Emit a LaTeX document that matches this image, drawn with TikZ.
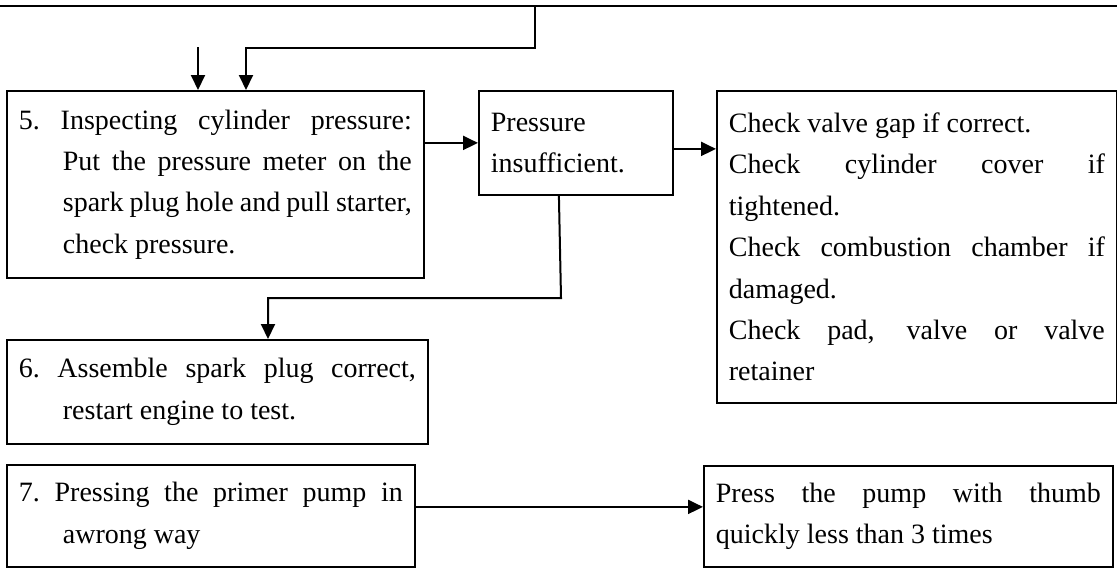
\documentclass[tikz,border=0pt]{standalone}
\usepackage{fontspec}
\setmainfont{Liberation Serif}
\usetikzlibrary{arrows.meta}

\begin{document}
\begin{tikzpicture}[x=0.5pt,y=-0.5pt,
    box/.style={draw, line width=0.9pt, anchor=north west, inner xsep=6pt, inner ysep=0pt, align=justify,
        font={\fontsize{14pt}{20.7pt}\selectfont\parindent=0pt\parskip=0pt}},
    arr/.style={-{Triangle[length=7.5pt,width=7pt]}, line width=1pt}]
    \useasboundingbox (0,0) rectangle (1117,568);

    \node [box, text width=196.5pt, minimum height=93.5pt] (5) at (6,90) {\hangindent=22pt\hangafter=1 5.\ Inspecting cylinder pressure: \linebreak Put the pressure meter on the \linebreak spark plug hole and pull starter, \linebreak check pressure.\par};
    \node [box, align=left, text width=85pt, minimum height=52pt] (low) at (478,90) {Pressure\\insufficient.};
    \node [box, text width=188pt, minimum height=156pt] (check) at (716,90) {Check valve gap if correct.\par Check cylinder cover if \linebreak tightened.\par Check combustion chamber if \linebreak damaged.\par Check pad, valve or valve \linebreak retainer};
    \node [box, text width=198.5pt, minimum height=52pt] (6) at (6,339) {\hangindent=22pt\hangafter=1 6.\ Assemble spark plug correct, \linebreak restart engine to test.\par};
    \node [box, text width=192pt, minimum height=51pt] (7) at (6,464) {\hangindent=22pt\hangafter=1 7.\ Pressing the primer pump in \linebreak awrong way\par};
    \node [box, text width=192.5pt, minimum height=50.5pt] (thumb) at (703,465) {Press the pump with thumb \linebreak quickly less than 3 times};

    \coordinate (tl) at (0,6);
    \coordinate (tr) at (1117,6);
    \coordinate (t1) at (535,6);
    \coordinate (t2) at (535,48);
    \coordinate (t3) at (246,48);
    \coordinate (a1) at (198,47);
    \coordinate (j1) at (561,298);
    \coordinate (j2) at (268,298);

    \draw [line width=1.2pt] (tl) -- (tr);
    \draw [arr] (t1) -- (t2) -- (t3) -- (t3 |- 5.north);
    \draw [arr] (a1) -- (a1 |- 5.north);
    \draw [arr] (5.east |- low.west) -- (low.west);
    \draw [arr] ([yshift=-3pt]low.east) -- ([yshift=-3pt]low.east -| check.west);
    \draw [arr] ([xshift=-8.5pt]low.south) -- (j1) -- (j2) -- (j2 |- 6.north);
    \draw [arr] ([yshift=4.5pt]7.east) -- ([yshift=4.5pt]7.east -| thumb.west);
\end{tikzpicture}
\end{document}
